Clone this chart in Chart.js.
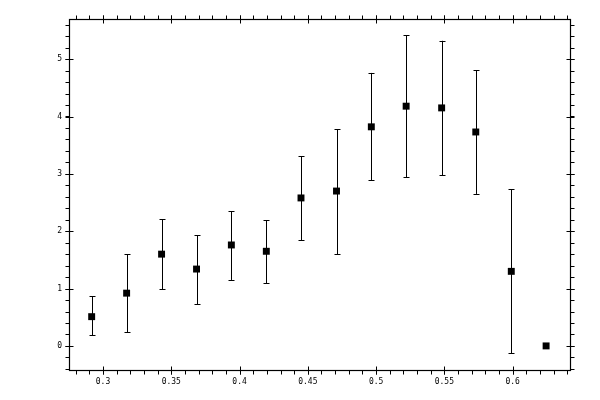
<!DOCTYPE html>
<html>
<head>
<meta charset="utf-8">
<script src="https://cdn.jsdelivr.net/npm/chart.js@4/dist/chart.umd.min.js"></script>
<style>
  html, body { margin: 0; padding: 0; background: #fff; }
  #wrap { width: 600px; height: 400px; }
</style>
</head>
<body>
<div id="wrap"><canvas id="chart"></canvas></div>
<script>
// data
const xValues = [0.2917, 0.3173, 0.3429, 0.3685, 0.394, 0.4196, 0.445, 0.471, 0.4965, 0.522, 0.548, 0.573, 0.599, 0.6245];
const yValues = [0.51, 0.92, 1.60, 1.34, 1.76, 1.65, 2.58, 2.70, 3.82, 4.18, 4.15, 3.73, 1.30, 0.0];
const yLow    = [0.19, 0.24, 0.99, 0.73, 1.15, 1.09, 1.84, 1.60, 2.89, 2.94, 2.98, 2.65, -0.13, null];
const yHigh   = [0.87, 1.60, 2.21, 1.93, 2.35, 2.19, 3.31, 3.78, 4.76, 5.42, 5.32, 4.81, 2.73, null];

const xTicks = [0.3, 0.35, 0.4, 0.45, 0.5, 0.55, 0.6];
const yTicks = [0, 1, 2, 3, 4, 5];
const xMinorStep = 0.01;
const yMinorStep = 0.2;

const points = xValues.map((x, i) => ({ x: x, y: yValues[i] }));

// error bars + boxed frame with major/minor ticks on every side
const frameAndErrors = {
  id: 'frameAndErrors',
  afterDatasetsDraw(chart) {
    const ctx = chart.ctx;
    const xs = chart.scales.x, ys = chart.scales.y;
    const a = chart.chartArea;
    ctx.save();
    ctx.strokeStyle = '#000';
    ctx.lineWidth = 1;

    // error bars
    xValues.forEach((x, i) => {
      if (yLow[i] === null) return;
      const px = Math.round(xs.getPixelForValue(x)) + 0.5;
      const lo = ys.getPixelForValue(yLow[i]);
      const hi = ys.getPixelForValue(yHigh[i]);
      ctx.beginPath();
      ctx.moveTo(px, lo); ctx.lineTo(px, hi);
      ctx.moveTo(px - 3, Math.round(lo) + 0.5); ctx.lineTo(px + 3, Math.round(lo) + 0.5);
      ctx.moveTo(px - 3, Math.round(hi) + 0.5); ctx.lineTo(px + 3, Math.round(hi) + 0.5);
      ctx.stroke();
    });

    // frame
    const L = Math.round(a.left) + 0.5, R = Math.round(a.right) + 0.5;
    const T = Math.round(a.top) + 0.5, B = Math.round(a.bottom) + 0.5;
    ctx.lineWidth = 1.2;
    ctx.strokeRect(L, T, R - L, B - T);

    ctx.lineWidth = 1;
    ctx.beginPath();
    // x minor
    for (let v = Math.ceil(xs.min / xMinorStep) * xMinorStep; v <= xs.max; v += xMinorStep) {
      const p = Math.round(xs.getPixelForValue(v)) + 0.5;
      ctx.moveTo(p, B); ctx.lineTo(p, B + 4);
      ctx.moveTo(p, T); ctx.lineTo(p, T - 4);
    }
    // x major
    xTicks.forEach(v => {
      const p = Math.round(xs.getPixelForValue(v)) + 0.5;
      ctx.moveTo(p, B - 4); ctx.lineTo(p, B + 4);
      ctx.moveTo(p, T + 4); ctx.lineTo(p, T - 4);
    });
    // y minor
    for (let v = Math.ceil(ys.min / yMinorStep) * yMinorStep; v <= ys.max; v += yMinorStep) {
      const p = Math.round(ys.getPixelForValue(v)) + 0.5;
      ctx.moveTo(L, p); ctx.lineTo(L - 4, p);
      ctx.moveTo(R, p); ctx.lineTo(R + 4, p);
    }
    // y major
    yTicks.forEach(v => {
      const p = Math.round(ys.getPixelForValue(v)) + 0.5;
      ctx.moveTo(L + 4, p); ctx.lineTo(L - 4, p);
      ctx.moveTo(R - 4, p); ctx.lineTo(R + 4, p);
    });
    ctx.stroke();
    ctx.restore();
  }
};

new Chart(document.getElementById('chart'), {
  type: 'scatter',
  data: {
    datasets: [{
      data: points,
      pointStyle: 'rect',
      pointRadius: 4.9,
      pointHoverRadius: 4.9,
      backgroundColor: '#000',
      borderColor: '#000',
      borderWidth: 0
    }]
  },
  options: {
    responsive: true,
    maintainAspectRatio: false,
    animation: false,
    events: [],
    layout: { padding: { top: 19, right: 30, left: 0, bottom: 0 } },
    plugins: {
      legend: { display: false },
      tooltip: { enabled: false }
    },
    scales: {
      x: {
        type: 'linear',
        min: 0.2751,
        max: 0.642,
        afterBuildTicks: s => { s.ticks = xTicks.map(v => ({ value: v })); },
        afterFit: s => { s.height = 30; },
        grid: { display: false, drawTicks: false },
        border: { display: false },
        ticks: {
          padding: 7,
          maxRotation: 0,
          autoSkip: false,
          color: '#000',
          font: { family: 'DejaVu Sans Mono', size: 8 },
          callback: v => String(+v.toFixed(2))
        }
      },
      y: {
        type: 'linear',
        min: -0.42,
        max: 5.70,
        afterBuildTicks: s => { s.ticks = yTicks.map(v => ({ value: v })); },
        afterFit: s => { s.width = 69; },
        grid: { display: false, drawTicks: false },
        border: { display: false },
        ticks: {
          padding: 7,
          autoSkip: false,
          color: '#000',
          font: { family: 'DejaVu Sans Mono', size: 8 },
          callback: v => String(v)
        }
      }
    }
  },
  plugins: [frameAndErrors]
});
</script>
</body>
</html>
